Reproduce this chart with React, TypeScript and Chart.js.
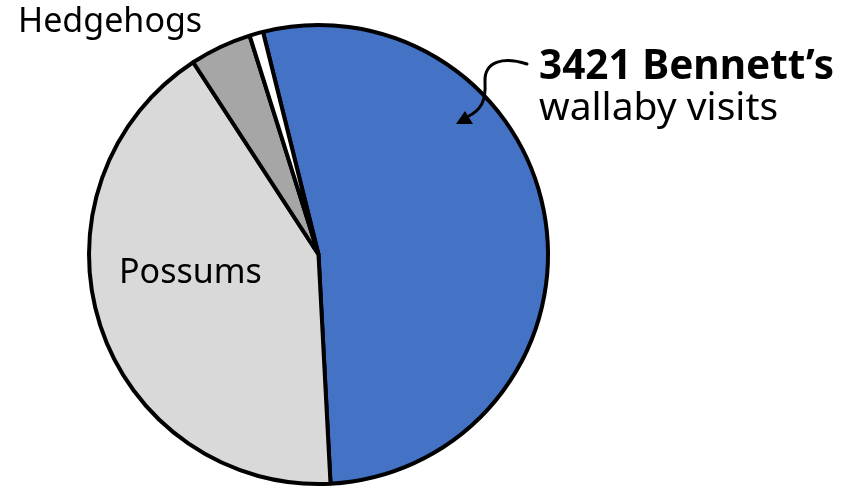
import React, { useEffect, useRef } from "react";
import { Chart, registerables } from "chart.js";

Chart.register(...registerables);

const categories = ["Bennett’s wallaby", "Possums", "Hedgehogs", "Other"];
const visits = [3421, 2685, 280, 62];
const sliceColors = ["#4472C4", "#D9D9D9", "#A6A6A6", "#FFFFFF"];

const FONT = "'Noto Sans', 'Open Sans', sans-serif";

const annotationPlugin = {
  id: "annotations",
  afterDraw(chart: any) {
    const ctx = chart.ctx as CanvasRenderingContext2D;
    ctx.save();
    ctx.fillStyle = "#000";
    ctx.textBaseline = "alphabetic";
    ctx.textAlign = "left";

    ctx.font = `34px ${FONT}`;
    ctx.fillText(categories[2], 18, 32);
    ctx.fillText(categories[1], 119, 283);

    ctx.font = `bold 40.5px ${FONT}`;
    ctx.fillText(`${visits[0]} Bennett’s`, 539, 79);
    ctx.font = `39px ${FONT}`;
    ctx.fillText("wallaby visits", 539, 120);

    // curved arrow
    ctx.strokeStyle = "#000";
    ctx.lineWidth = 3;
    ctx.lineCap = "round";
    ctx.beginPath();
    ctx.moveTo(527, 64);
    ctx.bezierCurveTo(505, 57, 484, 60, 485, 82);
    ctx.bezierCurveTo(486, 100, 482, 110, 467, 117);
    ctx.stroke();
    ctx.beginPath();
    ctx.moveTo(456, 124);
    ctx.lineTo(465, 111);
    ctx.lineTo(473, 124);
    ctx.closePath();
    ctx.fillStyle = "#000";
    ctx.fill();
    ctx.restore();
  },
};

export default function App() {
  const ref = useRef<HTMLCanvasElement>(null);
  useEffect(() => {
    document.body.style.margin = "0";
    const chart = new Chart(ref.current!, {
      type: "pie",
      data: {
        labels: categories,
        datasets: [
          {
            data: visits,
            backgroundColor: sliceColors,
            borderColor: "#000",
            borderWidth: 4,
          },
        ],
      },
      options: {
        responsive: false,
        animation: false,
        devicePixelRatio: 1,
        rotation: -14,
        layout: { padding: { left: 87, top: 23, right: 310, bottom: 3 } },
        plugins: { legend: { display: false }, tooltip: { enabled: false } },
      },
      plugins: [annotationPlugin],
    });
    return () => chart.destroy();
  }, []);
  return (
    <div style={{ width: 860, height: 489 }}>
      <canvas ref={ref} width={860} height={489} />
    </div>
  );
}
